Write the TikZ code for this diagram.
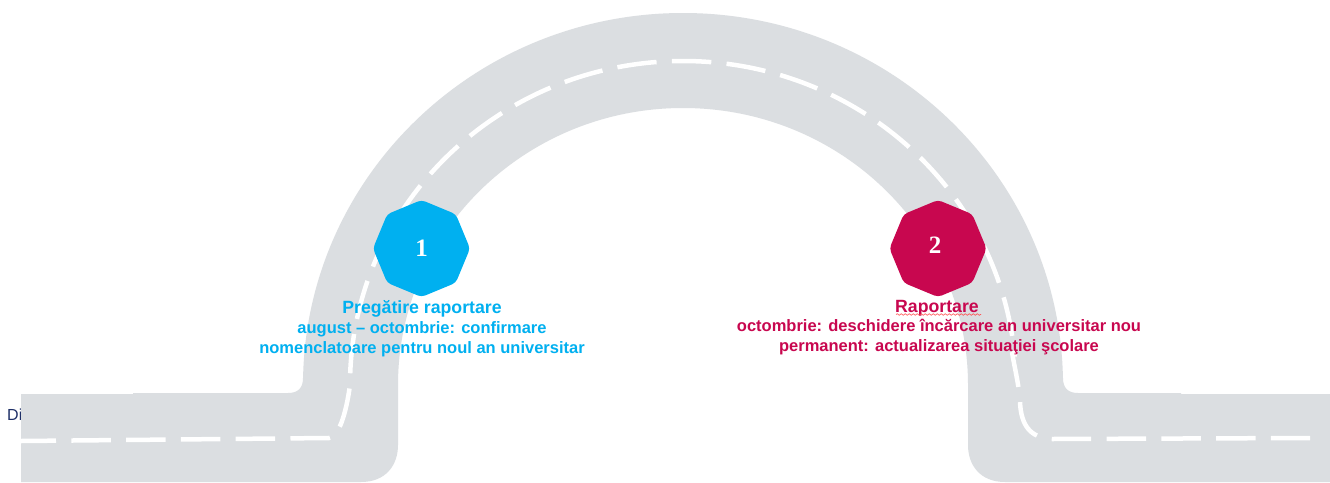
\documentclass[tikz,border=0pt]{standalone}
\usepackage{fontspec}
\setmainfont{Liberation Sans}
\newfontfamily\numfont{Liberation Serif}
\usetikzlibrary{shapes.geometric,decorations.pathmorphing}
\definecolor{roadgrey}{HTML}{DBDEE1}
\definecolor{stepcyan}{HTML}{00B0F0}
\definecolor{stepred}{HTML}{C8074F}
\definecolor{navytext}{HTML}{1F3068}
\tikzset{
  octa/.style={regular polygon,regular polygon sides=8,shape border rotate=22.5,
    minimum size=97pt,inner sep=0pt,rounded corners=4pt,draw=none},
  numtext/.style={font=\numfont\bfseries\fontsize{25}{25}\selectfont,text=white,inner sep=0pt},
  maintitle/.style={font=\bfseries\fontsize{17.7}{20}\selectfont,inner sep=0pt,anchor=base},
  subline/.style={font=\bfseries\fontsize{16.5}{18}\selectfont,inner sep=0pt,anchor=base},
  centreline/.style={draw=white,line width=4.5pt,dash pattern=on 39.5pt off 15.3pt}
}
\begin{document}
\begin{tikzpicture}[x=1pt,y=-1pt]
\useasboundingbox (0,0) rectangle (1330,482);
\fill[white] (0,0) rectangle (1330,482);
\node[anchor=base west,inner sep=0pt,font=\fontsize{16}{18}\selectfont,text=navytext] (di) at (7,420) {Di};
% road
\fill[roadgrey] (21,394) -- (133,394) -- (133,393) -- (288,393)
  .. controls (298,393) and (303,388) .. (303,378)
  -- (303,385) arc[start angle=180,end angle=0,x radius=380pt,y radius=372pt]
  -- (1063,378) .. controls (1063,388) and (1068,393) .. (1078,393)
  -- (1181,393) -- (1181,394) -- (1330,394) -- (1330,482) -- (1005,482)
  .. controls (980,482) and (968,465) .. (968,445)
  -- (968,385) arc[start angle=0,end angle=180,x radius=285pt,y radius=277pt]
  -- (398,445) .. controls (398,465) and (386,482) .. (361,482)
  -- (21,482) -- cycle;
% centre line
\draw[centreline,dash phase=4.5pt] (21,441) -- (329,438)
  .. controls (338,438) and (346,415) .. (350,385)
  arc[start angle=180,end angle=5,x radius=333pt,y radius=324pt];
\draw[centreline,dash phase=4pt] (1012,352) .. controls (1015,370) and (1019,385) .. (1020,402)
  .. controls (1021,425) and (1030,438) .. (1052,439) -- (1310,438);
% steps
\node[octa,fill=stepcyan] (s1) at (421.5,248.5) {};
\node[numtext] (n1) at (421.5,248) {1};
\node[octa,fill=stepred] (s2) at (938,248.5) {};
\node[numtext] (n2) at (935,245.5) {2};
% labels
\node[maintitle,text=stepcyan] (t1) at (422,313) {Pregătire raportare};
\node[subline,text=stepcyan] (t1a) at (422,333) {august – octombrie: confirmare};
\node[subline,text=stepcyan] (t1b) at (422,353) {nomenclatoare pentru noul an universitar};
\node[maintitle,text=stepred] (t2) at (937,312) {Raportare};
\node[subline,text=stepred] (t2a) at (939,331) {octombrie: deschidere încărcare an universitar nou};
\node[subline,text=stepred] (t2b) at (939,351) {permanent: actualizarea situaţiei şcolare};
\coordinate (wl) at (896,314.5);
\coordinate (wr) at (981,314.5);
\draw[red!70!white,line width=0.6pt,decorate,decoration={snake,amplitude=0.8pt,segment length=4pt}] (wl) -- (wr);
\end{tikzpicture}
\end{document}
